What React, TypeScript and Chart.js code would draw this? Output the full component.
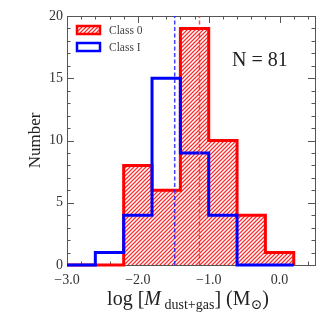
import React, { useEffect, useRef } from "react";
import { Chart, registerables } from "chart.js";
Chart.register(...registerables);

const BIN_EDGES = [-3.0, -2.6, -2.2, -1.8, -1.4, -1.0, -0.6, -0.2, 0.2];
const CLASS0_COUNTS = [0, 0, 8, 6, 19, 10, 4, 1];
const CLASS1_COUNTS = [0, 1, 4, 15, 9, 4, 0, 0];
const CLASS0_MEDIAN = -1.13;
const CLASS1_MEDIAN = -1.48;
const X_TICKS = [-3, -2, -1, 0];
const Y_TICKS = [0, 5, 10, 15, 20];
const X_MINOR_STEP = 0.2;
const Y_MINOR_STEP = 1;
const LEGEND_LABELS = ["Class 0", "Class I"];
const N_LABEL = "N = 81";
const Y_TITLE = "Number";

const SERIF = "'Liberation Serif', 'DejaVu Serif', serif";

function stepPoints(counts: number[]) {
  const pts = counts.map((c, i) => ({ x: BIN_EDGES[i], y: c }));
  pts.push({ x: BIN_EDGES[BIN_EDGES.length - 1], y: 0 });
  return pts;
}

function fmtX(v: number) {
  const s = Math.abs(v).toFixed(1);
  return v < 0 ? "\u2212" + s : s;
}

function makeHatch(ctx: CanvasRenderingContext2D) {
  const n = 4;
  const pc = document.createElement("canvas");
  pc.width = n;
  pc.height = n;
  const g = pc.getContext("2d")!;
  const img = g.createImageData(n, n);
  for (let y = 0; y < n; y++) {
    for (let x = 0; x < n; x++) {
      const k = (x + y) % n;
      const i = (y * n + x) * 4;
      let c = [255, 255, 255];
      if (k === 0) c = [255, 40, 40];
      else if (k === 1 || k === n - 1) c = [255, 170, 170];
      img.data[i] = c[0];
      img.data[i + 1] = c[1];
      img.data[i + 2] = c[2];
      img.data[i + 3] = 255;
    }
  }
  g.putImageData(img, 0, 0);
  return ctx.createPattern(pc, "repeat")!;
}

export default function App() {
  const ref = useRef<HTMLCanvasElement>(null);
  useEffect(() => {
    const canvas = ref.current!;
    const ctx0 = canvas.getContext("2d")!;
    const hatch = makeHatch(ctx0);

    const framePlugin = {
      id: "frameTicks",
      beforeDatasetsDraw(chart: any) {
        const { ctx, chartArea: a, scales } = chart;
        const xs = scales.x;
        const ys = scales.y;
        ctx.save();
        ctx.strokeStyle = "#555";
        ctx.lineWidth = 1;
        ctx.beginPath();
        for (let v = xs.min; v <= xs.max + 1e-9; v += X_MINOR_STEP) {
          const px = Math.round(xs.getPixelForValue(v)) + 0.5;
          const major = X_TICKS.some((t) => Math.abs(t - v) < 1e-6);
          const len = major ? 7 : 3.5;
          ctx.moveTo(px, a.bottom);
          ctx.lineTo(px, a.bottom - len);
          ctx.moveTo(px, a.top);
          ctx.lineTo(px, a.top + len);
        }
        for (let v = ys.min; v <= ys.max + 1e-9; v += Y_MINOR_STEP) {
          const py = Math.round(ys.getPixelForValue(v)) + 0.5;
          const major = Y_TICKS.some((t) => Math.abs(t - v) < 1e-6);
          const len = major ? 7 : 3.5;
          ctx.moveTo(a.left, py);
          ctx.lineTo(a.left + len, py);
          ctx.moveTo(a.right, py);
          ctx.lineTo(a.right - len, py);
        }
        ctx.stroke();
        ctx.strokeRect(Math.round(a.left) + 0.5, Math.round(a.top) + 0.5, Math.round(a.right - a.left), Math.round(a.bottom - a.top));
        ctx.restore();
      },
    };

    const textPlugin = {
      id: "texts",
      afterDraw(chart: any) {
        const { ctx, chartArea: a } = chart;
        ctx.save();
        const bx = a.left + 10;
        const bw = 23;
        const bh = 8;
        const rows = [30, 47];
        ctx.fillStyle = hatch;
        ctx.fillRect(bx, rows[0] - bh / 2, bw, bh);
        ctx.strokeStyle = "#ff0000";
        ctx.lineWidth = 2.5;
        ctx.strokeRect(bx, rows[0] - bh / 2, bw, bh);
        ctx.strokeStyle = "#0000ff";
        ctx.lineWidth = 2.5;
        ctx.strokeRect(bx, rows[1] - bh / 2, bw, bh);
        ctx.fillStyle = "#444";
        ctx.font = `11.5px ${SERIF}`;
        ctx.textBaseline = "middle";
        ctx.textAlign = "left";
        ctx.fillText(LEGEND_LABELS[0], bx + bw + 9, rows[0] + 1);
        ctx.fillText(LEGEND_LABELS[1], bx + bw + 9, rows[1] + 1);

        ctx.fillStyle = "#222";
        ctx.font = `20px ${SERIF}`;
        ctx.textAlign = "left";
        ctx.textBaseline = "alphabetic";
        ctx.fillText(N_LABEL, 232, 66);

        ctx.save();
        ctx.translate(36, (a.top + a.bottom) / 2);
        ctx.rotate(-Math.PI / 2);
        ctx.textAlign = "center";
        ctx.textBaseline = "middle";
        ctx.font = `17px ${SERIF}`;
        ctx.fillStyle = "#222";
        ctx.fillText(Y_TITLE, 0, 0);
        ctx.restore();

        const fMain = `20px ${SERIF}`;
        const fIt = `italic 20px ${SERIF}`;
        const fSub = `14px ${SERIF}`;
        const segs = [
          { t: "log [", f: fMain, dy: 0 },
          { t: "M", f: fIt, dy: 0 },
          { t: " ", f: fSub, dy: 0 },
          { t: "dust+gas", f: fSub, dy: 4 },
          { t: "] (M", f: fMain, dy: 0 },
          { t: "\u2299", f: fSub, dy: 4 },
          { t: ")", f: fMain, dy: 0 },
        ];
        let total = 0;
        const widths = segs.map((s) => {
          ctx.font = s.f;
          const w = ctx.measureText(s.t).width;
          total += w;
          return w;
        });
        let x = (a.left + a.right) / 2 - total / 2 - 3;
        const base = 305;
        ctx.fillStyle = "#222";
        ctx.textAlign = "left";
        ctx.textBaseline = "alphabetic";
        segs.forEach((s, i) => {
          ctx.font = s.f;
          ctx.fillText(s.t, x, base + s.dy);
          x += widths[i];
        });
        ctx.restore();
      },
    };

    const chart = new Chart(canvas, {
      type: "line",
      data: {
        datasets: [
          {
            label: "median1",
            data: [
              { x: CLASS1_MEDIAN, y: 0 },
              { x: CLASS1_MEDIAN, y: 20 },
            ],
            borderColor: "rgba(30,30,255,0.85)",
            borderWidth: 1.5,
            borderDash: [4, 2.5],
            pointRadius: 0,
            fill: false,
            order: 0,
          },
          {
            label: "median0",
            data: [
              { x: CLASS0_MEDIAN, y: 0 },
              { x: CLASS0_MEDIAN, y: 20 },
            ],
            borderColor: "rgba(240,40,40,0.8)",
            borderWidth: 1.5,
            borderDash: [4, 2.5],
            pointRadius: 0,
            fill: false,
            order: 0,
          },
          {
            label: LEGEND_LABELS[1],
            data: stepPoints(CLASS1_COUNTS),
            stepped: true,
            borderColor: "#0000ff",
            borderWidth: 3,
            pointRadius: 0,
            fill: false,
            clip: false,
            order: 1,
          },
          {
            label: LEGEND_LABELS[0],
            data: stepPoints(CLASS0_COUNTS),
            stepped: true,
            borderColor: "#ff0000",
            backgroundColor: hatch,
            borderWidth: 3,
            pointRadius: 0,
            fill: "origin",
            clip: false,
            order: 2,
          },
        ],
      } as any,
      options: {
        animation: false,
        responsive: false,
        maintainAspectRatio: false,
        layout: { padding: { top: 16, right: 17, left: 0, bottom: 0 } },
        plugins: { legend: { display: false }, tooltip: { enabled: false } },
        scales: {
          x: {
            type: "linear",
            min: -3,
            max: 0.5,
            grid: { display: false, drawTicks: false },
            border: { display: false },
            afterBuildTicks: (s: any) => {
              s.ticks = X_TICKS.map((v) => ({ value: v }));
            },
            afterFit: (s: any) => {
              s.height = 67;
            },
            ticks: {
              font: { family: SERIF, size: 14 },
              color: "#333",
              padding: 7,
              maxRotation: 0,
              autoSkip: false,
              callback: (v: any) => fmtX(Number(v)),
            },
          },
          y: {
            type: "linear",
            min: 0,
            max: 20,
            grid: { display: false, drawTicks: false },
            border: { display: false },
            afterBuildTicks: (s: any) => {
              s.ticks = Y_TICKS.map((v) => ({ value: v }));
            },
            afterFit: (s: any) => {
              s.width = 67;
            },
            ticks: {
              font: { family: SERIF, size: 14 },
              color: "#333",
              padding: 4,
              autoSkip: false,
            },
          },
        },
      } as any,
      plugins: [framePlugin, textPlugin],
    });
    return () => chart.destroy();
  }, []);

  return (
    <div style={{ position: "absolute", left: 0, top: 0, width: 332, height: 332, background: "#fff" }}>
      <canvas ref={ref} width={332} height={332} style={{ display: "block", width: 332, height: 332 }} />
    </div>
  );
}
